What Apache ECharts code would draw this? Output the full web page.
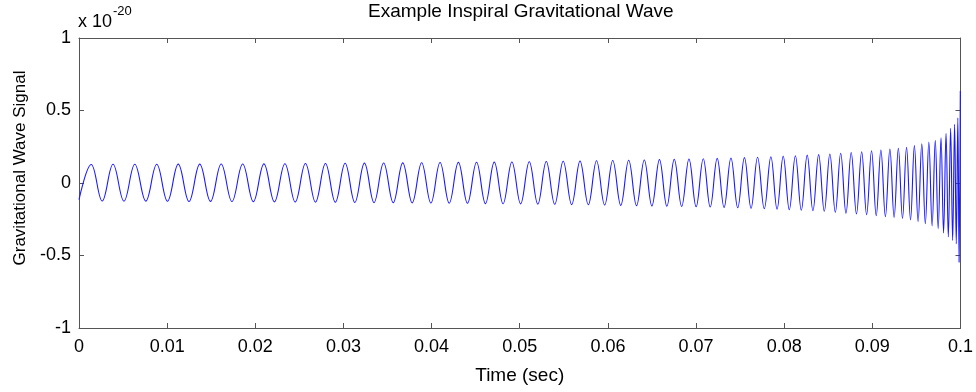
<!DOCTYPE html>
<html>
<head>
<meta charset="utf-8">
<script src="https://cdn.jsdelivr.net/npm/echarts@6/dist/echarts.min.js"></script>
<style>
html,body{margin:0;padding:0;background:#fff;}
#chart{width:976px;height:392px;}
</style>
</head>
<body>
<div id="chart"></div>
<script>
// Values in units of 1e-20
const startTime = 0;
const startValue = -0.115;
const peakTimes = [
  0.00139, 0.00386, 0.00633, 0.00882, 0.01126, 0.01370, 0.01613, 0.01857, 0.02098, 0.02336,
  0.02569, 0.02796, 0.03019, 0.03238, 0.03456, 0.03673, 0.03887, 0.04096, 0.04304, 0.04510,
  0.04711, 0.04911, 0.05108, 0.05301, 0.05493, 0.05684, 0.05871, 0.06055, 0.06236, 0.06413,
  0.06585, 0.06753, 0.06920, 0.07082, 0.07240, 0.07396, 0.07549, 0.07698, 0.07849, 0.07989,
  0.08127, 0.08261, 0.08391, 0.08518, 0.08641, 0.08760, 0.08879, 0.08991, 0.09097, 0.09199,
  0.09295, 0.09388, 0.09477, 0.09561, 0.09641, 0.09714, 0.09779, 0.09836, 0.09888, 0.09933,
  0.09970, 0.09998
];
const peakValues = [
  0.128, 0.129, 0.129, 0.129, 0.130, 0.130, 0.131, 0.131, 0.132, 0.133,
  0.134, 0.135, 0.136, 0.137, 0.138, 0.139, 0.140, 0.141, 0.142, 0.143,
  0.144, 0.145, 0.147, 0.148, 0.150, 0.151, 0.153, 0.155, 0.157, 0.159,
  0.161, 0.163, 0.165, 0.167, 0.170, 0.172, 0.175, 0.178, 0.181, 0.185,
  0.188, 0.192, 0.196, 0.200, 0.205, 0.210, 0.216, 0.222, 0.228, 0.235,
  0.240, 0.247, 0.258, 0.270, 0.282, 0.294, 0.312, 0.342, 0.377, 0.405,
  0.450, 0.635
];
const troughTimes = [
  0.00263, 0.00510, 0.00758, 0.01004, 0.01248, 0.01492, 0.01735, 0.01978, 0.02217, 0.02453,
  0.02683, 0.02908, 0.03129, 0.03347, 0.03565, 0.03780, 0.03992, 0.04200, 0.04407, 0.04611,
  0.04811, 0.05010, 0.05205, 0.05397, 0.05589, 0.05778, 0.05963, 0.06146, 0.06325, 0.06499,
  0.06669, 0.06837, 0.07001, 0.07161, 0.07318, 0.07473, 0.07624, 0.07774, 0.07919, 0.08058,
  0.08194, 0.08326, 0.08455, 0.08580, 0.08701, 0.08820, 0.08935, 0.09044, 0.09148, 0.09247,
  0.09342, 0.09433, 0.09519, 0.09601, 0.09678, 0.09747, 0.09808, 0.09862, 0.09911, 0.09952,
  0.09984
];
const troughValues = [
  -0.124, -0.125, -0.125, -0.126, -0.127, -0.127, -0.128, -0.129, -0.130, -0.131,
  -0.132, -0.133, -0.134, -0.135, -0.136, -0.137, -0.138, -0.139, -0.140, -0.142,
  -0.143, -0.144, -0.146, -0.147, -0.149, -0.150, -0.152, -0.154, -0.156, -0.158,
  -0.160, -0.162, -0.164, -0.166, -0.169, -0.171, -0.174, -0.177, -0.180, -0.184,
  -0.188, -0.191, -0.195, -0.202, -0.209, -0.213, -0.218, -0.225, -0.232, -0.237,
  -0.244, -0.254, -0.266, -0.281, -0.296, -0.315, -0.345, -0.372, -0.397, -0.420,
  -0.546
];
const xTicks = { min: 0, max: 0.1, interval: 0.01 };
const yTicks = { min: -1, max: 1, interval: 0.5 };

// assemble the series from the extrema lists
const seriesData = [[startTime, startValue]];
for (let i = 0; i < peakTimes.length; i++) {
  seriesData.push([peakTimes[i], peakValues[i]]);
  if (i < troughTimes.length) seriesData.push([troughTimes[i], troughValues[i]]);
}

const FONT = '"Liberation Sans", Arial, Helvetica, sans-serif';
const AX = '#555555';

const chart = echarts.init(document.getElementById('chart'), null, { renderer: 'canvas' });
const mirrorAxis = {
  axisLine: { show: true, onZero: false, lineStyle: { color: AX, width: 1 } },
  axisTick: { show: true, inside: true, length: 5, lineStyle: { color: AX } },
  axisLabel: { show: false },
  splitLine: { show: false }
};
chart.setOption({
  animation: false,
  backgroundColor: '#ffffff',
  textStyle: { fontFamily: FONT },
  title: [
    {
      text: 'Example Inspiral Gravitational Wave',
      left: 368,
      top: 2,
      padding: 0,
      textStyle: { fontFamily: FONT, fontSize: 19, fontWeight: 'normal', color: '#000' }
    },
    {
      text: '{a|x 10}{b|-20}',
      left: 78,
      top: 0,
      padding: 0,
      textStyle: {
        fontWeight: 'normal',
        rich: {
          a: { fontFamily: FONT, fontSize: 18, fontWeight: 'normal', color: '#000', padding: [13, 0, 0, 0] },
          b: { fontFamily: FONT, fontSize: 13, fontWeight: 'normal', color: '#000', padding: [0, 0, 9, 1] }
        }
      }
    }
  ],
  grid: { left: 79, right: 15, top: 38, bottom: 64, containLabel: false },
  xAxis: [
    {
      type: 'value',
      min: xTicks.min, max: xTicks.max, interval: xTicks.interval,
      position: 'bottom',
      name: 'Time (sec)',
      nameLocation: 'middle',
      nameGap: 38,
      nameTextStyle: { fontFamily: FONT, fontSize: 19, color: '#000' },
      axisLine: { show: true, onZero: false, lineStyle: { color: AX, width: 1 } },
      axisTick: { show: true, inside: true, length: 5, lineStyle: { color: AX } },
      axisLabel: { show: true, margin: 10, fontFamily: FONT, fontSize: 18, color: '#000' },
      splitLine: { show: false }
    },
    Object.assign({
      type: 'value', min: xTicks.min, max: xTicks.max, interval: xTicks.interval, position: 'top'
    }, mirrorAxis)
  ],
  yAxis: [
    {
      type: 'value',
      min: yTicks.min, max: yTicks.max, interval: yTicks.interval,
      position: 'left',
      axisLine: { show: true, onZero: false, lineStyle: { color: AX, width: 1 } },
      axisTick: { show: true, inside: true, length: 5, lineStyle: { color: AX } },
      axisLabel: { show: true, margin: 8, fontFamily: FONT, fontSize: 18, color: '#000' },
      splitLine: { show: false }
    },
    Object.assign({
      type: 'value', min: yTicks.min, max: yTicks.max, interval: yTicks.interval, position: 'right'
    }, mirrorAxis)
  ],
  graphic: [
    {
      type: 'text',
      x: 20, y: 168,
      rotation: Math.PI / 2,
      style: {
        text: 'Gravitational Wave Signal',
        fontFamily: FONT, fontSize: 17, fill: '#000',
        align: 'center', verticalAlign: 'middle'
      }
    }
  ],
  series: [
    {
      type: 'line',
      data: seriesData,
      xAxisIndex: 0, yAxisIndex: 0,
      showSymbol: false,
      smooth: 0.4,
      lineStyle: { color: '#1a1aff', width: 1.1 },
      clip: false
    }
  ]
});
</script>
</body>
</html>
